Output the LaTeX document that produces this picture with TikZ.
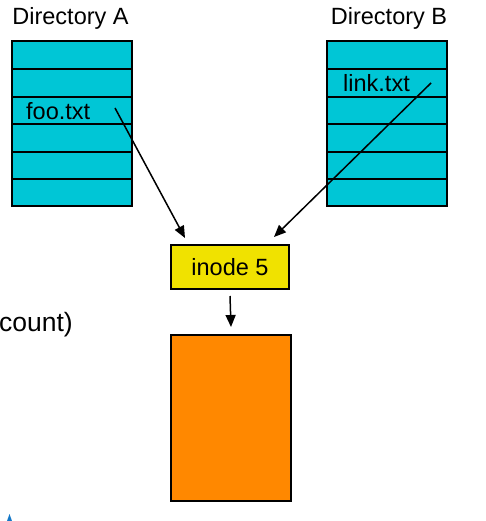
\documentclass[tikz,border=0pt]{standalone}
\usepackage{fontspec}
\setmainfont{Liberation Sans}
\usetikzlibrary{arrows.meta,calc}
\definecolor{dircyan}{RGB}{0,198,214}
\definecolor{inodeyellow}{RGB}{240,226,0}
\definecolor{dataorange}{RGB}{255,136,0}
\definecolor{bulletblue}{RGB}{20,120,200}
\tikzset{
  lbl/.style={font=\fontsize{23.5}{27}\selectfont, inner sep=0pt},
  dirbox/.style={draw=black, line width=2pt, fill=dircyan, minimum width=120pt, minimum height=165pt, inner sep=0pt},
  inodebox/.style={draw=black, line width=2pt, fill=inodeyellow, minimum width=118pt, minimum height=44pt, inner sep=0pt, font=\fontsize{23.5}{27}\selectfont},
  databox/.style={draw=black, line width=2pt, fill=dataorange, minimum width=120pt, minimum height=166pt, inner sep=0pt},
  rowline/.style={line width=2pt},
  ptr/.style={line width=1.5pt, -{Triangle[length=12pt,width=10pt]}}
}
\begin{document}
\begin{tikzpicture}[x=1pt,y=-1pt]
\useasboundingbox (0,0) rectangle (486,521);
% directories
\node[dirbox] (dirA) at (72,123.5) {};
\node[dirbox] (dirB) at (387,123.5) {};
\foreach \yy in {69,97,124,152,179}{
  \draw[rowline] (12,\yy) -- (132,\yy);
  \draw[rowline] (327,\yy) -- (447,\yy);
}
\node[lbl, anchor=base] (titleA) at (70.5,25) {Directory A};
\node[lbl, anchor=base] (titleB) at (389,25) {Directory B};
\node[lbl, anchor=base west] (foo) at (26,119.5) {foo.txt};
\node[lbl, anchor=base west] (link) at (343,91.5) {link.txt};
% inode and data
\node[inodebox] (inode) at (230,267) {inode 5};
\node[databox] (data) at (231,418) {};
% pointers
\coordinate (fooptr) at (115,108);
\coordinate (linkptr) at (431,83);
\coordinate (inA) at ($(inode.north west)+(15,-6)$);
\coordinate (inB) at ($(inode.north east)+(-16,-7)$);
\draw[ptr] (fooptr) -- (inA);
\draw[ptr] (linkptr) -- (inB);
\draw[ptr] ([yshift=-6pt]inode.south) -- ([yshift=7pt]data.north);
% cut-off text at left
\node[font=\fontsize{26.5}{30}\selectfont, inner sep=0pt, anchor=base east] (cnt) at (73,331) {count)};
% cut-off bullet at bottom left
\fill[bulletblue] (7,521) -- (9.5,514) -- (12,521) -- cycle;
\end{tikzpicture}
\end{document}
